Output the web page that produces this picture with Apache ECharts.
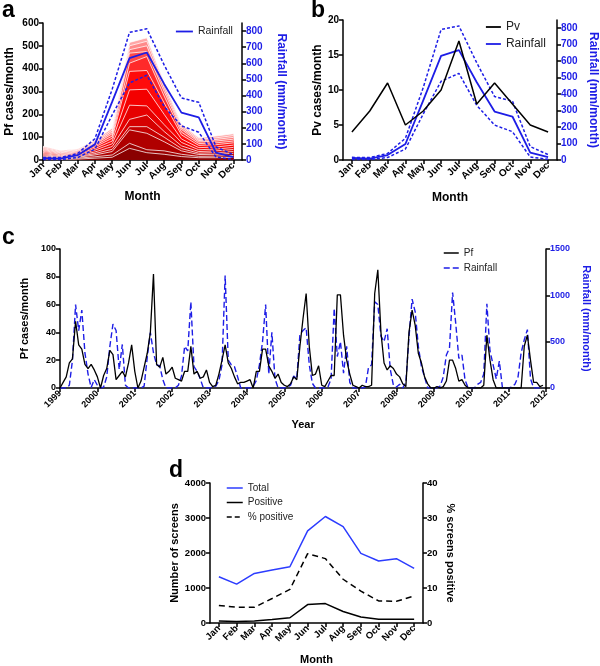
<!DOCTYPE html>
<html><head><meta charset="utf-8">
<script src="https://cdn.jsdelivr.net/npm/echarts@6/dist/echarts.min.js"></script>
<style>html,body{margin:0;padding:0;background:#fff}#c{width:600px;height:666px}</style>
</head><body><div id="c"></div>
<script>
// ---------- shared ----------
const months = ['Jan','Feb','Mar','Apr','May','Jun','Jul','Aug','Sep','Oct','Nov','Dec'];

// ---------- panel a: stacked Pf cases per month (13 yearly layers, bottom to top) ----------
const pfLayer01 = [5, 3, 4, 8, 12, 51, 32, 25, 15, 10, 10, 12];
const pfLayer02 = [4, 3, 4, 6, 10, 22, 13, 15, 10, 6, 7, 8];
const pfLayer03 = [5, 4, 4, 8, 15, 59, 72, 40, 15, 8, 8, 9];
const pfLayer04 = [4, 3, 3, 6, 10, 14, 29, 20, 10, 6, 7, 8];
const pfLayer05 = [5, 3, 4, 7, 12, 32, 51, 25, 12, 7, 8, 9];
const pfLayer06 = [5, 3, 4, 8, 12, 62, 40, 30, 15, 8, 8, 9];
const pfLayer07 = [5, 4, 4, 7, 12, 67, 73, 45, 15, 9, 9, 10];
const pfLayer08 = [5, 3, 4, 7, 12, 81, 82, 50, 18, 10, 10, 10];
const pfLayer09 = [4, 3, 4, 6, 10, 36, 61, 30, 12, 8, 8, 8];
const pfLayer10 = [4, 3, 4, 6, 10, 44, 22, 20, 12, 7, 8, 8];
const pfLayer11 = [4, 3, 3, 5, 8, 15, 25, 15, 8, 6, 7, 8];
const pfLayer12 = [5, 3, 3, 5, 8, 17, 20, 15, 8, 6, 7, 8];
const pfLayer13 = [5, 4, 3, 6, 9, 15, 15, 10, 7, 6, 8, 8];

// ---------- panels a & b: monthly rainfall (mean and band) ----------
const rainMean  = [12, 8, 30, 97, 362, 632, 667, 472, 294, 264, 45, 18];
const rainUpper = [16, 15, 40, 132, 440, 792, 814, 590, 385, 358, 81, 33];
const rainLower = [3, 3, 15, 67, 280, 478, 526, 332, 212, 172, 18, 4];

// ---------- panel b: Pv cases per month ----------
const pvCases = [4, 7, 11, 5, 7, 10, 17, 8, 11, 8, 5, 4];

// ---------- panel c: monthly Pf cases and rainfall 1999-2011 ----------
const pf1999 = [0, 4, 8, 18, 21, 48, 31, 28, 17, 14, 17, 13];
const pf2000 = [8, 0, 9, 14, 27, 24, 6, 9, 12, 8, 18, 31];
const pf2001 = [12, 0, 5, 15, 25, 40, 82, 17, 15, 22, 10, 12];
const pf2002 = [15, 7, 6, 5, 12, 12, 30, 10, 12, 7, 8, 13];
const pf2003 = [4, 1, 2, 10, 20, 31, 18, 14, 8, 3, 4, 4];
const pf2004 = [5, 6, 0, 12, 12, 28, 28, 16, 12, 7, 10, 4];
const pf2005 = [2, 1, 3, 8, 6, 30, 50, 68, 30, 9, 10, 16];
const pf2006 = [2, 1, 5, 9, 9, 67, 67, 38, 20, 10, 2, 1];
const pf2007 = [0, 2, 1, 1, 2, 68, 85, 40, 18, 13, 16, 14];
const pf2008 = [10, 8, 3, 1, 40, 56, 45, 25, 18, 8, 3, 0];
const pf2009 = [0, 1, 0, 1, 5, 20, 20, 14, 5, 6, 2, 0];
const pf2010 = [0, 0, 0, 0, 2, 38, 20, 6, 0, 0, 0, 0];
const pf2011 = [0, 0, 0, 0, 0, 30, 38, 20, 4, 4, 1, 2];

const rain1999 = [0, 0, 0, 30, 300, 900, 620, 840, 380, 150, 5, 90];
const rain2000 = [30, 0, 10, 120, 450, 690, 620, 200, 470, 30, 0, 0];
const rain2001 = [0, 0, 0, 20, 330, 600, 380, 250, 240, 90, 0, 0];
const rain2002 = [0, 0, 30, 130, 450, 400, 930, 230, 180, 100, 0, 0];
const rain2003 = [0, 10, 20, 80, 250, 1215, 300, 250, 230, 120, 0, 0];
const rain2004 = [0, 0, 20, 80, 250, 500, 900, 150, 600, 100, 0, 0];
const rain2005 = [0, 10, 30, 130, 100, 580, 620, 650, 250, 50, 0, 0];
const rain2006 = [0, 0, 10, 100, 860, 340, 500, 160, 450, 60, 0, 0];
const rain2007 = [0, 0, 10, 220, 250, 930, 900, 560, 500, 640, 200, 30];
const rain2008 = [10, 40, 0, 60, 550, 960, 820, 450, 230, 120, 0, 0];
const rain2009 = [0, 0, 20, 120, 356, 430, 1030, 700, 320, 356, 86, 0];
const rain2010 = [0, 0, 40, 60, 150, 910, 400, 250, 100, 290, 0, 0];
const rain2011 = [0, 10, 40, 120, 380, 520, 630, 100, 0, 0, 0, 0];
const firstYear = 1999;
const yearRange = [1999, 2012];

// ---------- panel d: screening ----------
const screensTotal    = [1320, 1110, 1416, 1512, 1608, 2632, 3043, 2756, 1990, 1770, 1837, 1560];
const screensPositive = [60, 45, 55, 100, 150, 526, 555, 330, 172, 105, 105, 105];
const pctPositive     = [5.0, 4.5, 4.5, 7.0, 9.6, 19.8, 18.4, 12.5, 9.1, 6.3, 6.2, 7.7];

// ================= build chart =================
const FONT = 'Liberation Sans, Arial, Helvetica, sans-serif';
const BLUE = '#1d1de6';
const BLUE_D = '#2c3cff';
const layerColors = ['#8a0000','#9c0000','#b00000','#c40000','#d60000','#e60000','#f40000',
                     '#ff0b0b','#ff2a2a','#ff4a4a','#ff6c6c','#ff8a8a','#ffa6a6'];
const pfLayers = [pfLayer01,pfLayer02,pfLayer03,pfLayer04,pfLayer05,pfLayer06,pfLayer07,
                  pfLayer08,pfLayer09,pfLayer10,pfLayer11,pfLayer12,pfLayer13];
const pfYears = [pf1999,pf2000,pf2001,pf2002,pf2003,pf2004,pf2005,pf2006,pf2007,pf2008,pf2009,pf2010,pf2011];
const rainYears = [rain1999,rain2000,rain2001,rain2002,rain2003,rain2004,rain2005,rain2006,rain2007,rain2008,rain2009,rain2010,rain2011];
const pfAll = [].concat(...pfYears);
const rainAll = [].concat(...rainYears);

// cumulative tops of the stacked layers
const cum = [];
pfLayers.forEach((arr, i) => cum.push(arr.map((v, m) => v + (i ? cum[i - 1][m] : 0))));

function merge(a, b) {
  const out = Object.assign({}, a);
  for (const k in b) {
    if (b[k] && typeof b[k] === 'object' && !Array.isArray(b[k]) && a[k] && typeof a[k] === 'object' && !Array.isArray(a[k])) out[k] = merge(a[k], b[k]);
    else out[k] = b[k];
  }
  return out;
}
const plain = v => String(v);
const axisBase = {
  splitLine: {show: false},
  axisLine: {show: true, onZero: false, lineStyle: {color: '#000', width: 1.5}},
  axisTick: {show: true, length: 4, lineStyle: {color: '#000', width: 1.5}},
  axisLabel: {color: '#000', fontWeight: 'bold', fontSize: 10, fontFamily: FONT, margin: 4, formatter: plain},
  nameLocation: 'middle',
  nameTextStyle: {color: '#000', fontWeight: 'bold', fontSize: 12, fontFamily: FONT}
};
const ax = o => merge(axisBase, o);

const xAxes = [
  ax({type: 'value', gridIndex: 0, min: 0, max: 11.5, interval: 1, name: 'Month', nameGap: 31,
      axisLabel: {rotate: 45, showMaxLabel: false, formatter: v => Number.isInteger(v) ? months[v] : ''}}),
  ax({type: 'category', gridIndex: 1, data: months, boundaryGap: true, name: 'Month', nameGap: 32,
      axisTick: {alignWithLabel: true}, axisLabel: {rotate: 45, interval: 0, formatter: null}}),
  ax({type: 'value', gridIndex: 2, min: yearRange[0], max: yearRange[1], interval: 1, name: 'Year', nameGap: 31,
      axisLabel: {rotate: 45, fontSize: 9}, nameTextStyle: {fontSize: 11}}),
  ax({type: 'category', gridIndex: 3, data: months, boundaryGap: true, name: 'Month', nameGap: 31,
      axisTick: {alignWithLabel: true}, axisLabel: {rotate: 45, interval: 0, fontSize: 9.5, formatter: null}, nameTextStyle: {fontSize: 11}})
];
const hide850 = v => v % 100 === 0 ? String(v) : '';
const yAxes = [
  ax({type: 'value', gridIndex: 0, min: 0, max: 600, interval: 100, name: 'Pf cases/month', nameGap: 27}),
  ax({type: 'value', gridIndex: 0, position: 'right', min: 0, max: 850, interval: 100, nameRotate: -90,
      name: 'Rainfall (mm/month)', nameGap: 33, nameTextStyle: {color: BLUE},
      axisLabel: {color: BLUE, showMaxLabel: false, formatter: hide850}}),
  ax({type: 'value', gridIndex: 1, min: 0, max: 20, interval: 5, name: 'Pv cases/month', nameGap: 19}),
  ax({type: 'value', gridIndex: 1, position: 'right', min: 0, max: 850, interval: 100, nameRotate: -90,
      name: 'Rainfall (mm/month)', nameGap: 30, nameTextStyle: {color: BLUE},
      axisLabel: {color: BLUE, showMaxLabel: false, formatter: hide850}}),
  ax({type: 'value', gridIndex: 2, min: 0, max: 100, interval: 20, name: 'Pf cases/month', nameGap: 21,
      axisLabel: {fontSize: 9}, nameTextStyle: {fontSize: 11}}),
  ax({type: 'value', gridIndex: 2, position: 'right', min: 0, max: 1500, interval: 500, nameRotate: -90,
      name: 'Rainfall (mm/month)', nameGap: 30, axisLabel: {fontSize: 9, color: BLUE}, nameTextStyle: {fontSize: 11, color: BLUE}}),
  ax({type: 'value', gridIndex: 3, min: 0, max: 4000, interval: 1000, name: 'Number of screens', nameGap: 26,
      axisLabel: {fontSize: 9.5}, nameTextStyle: {fontSize: 11}}),
  ax({type: 'value', gridIndex: 3, position: 'right', min: 0, max: 40, interval: 10, name: '% screens positive',
      nameGap: 22, nameRotate: -90, axisLabel: {fontSize: 9.5}, nameTextStyle: {fontSize: 11}})
];

const series = [];
// panel a: cumulative layers, each filled down to zero; lower layers drawn on top
cum.forEach((arr, i) => {
  series.push({
    name: 'PfLayer' + (i + 1), type: 'line', xAxisIndex: 0, yAxisIndex: 0,
    symbol: 'none', z: 20 - i, silent: true,
    data: arr.map((v, m) => [m, v]),
    lineStyle: {color: '#ffffff', width: 0.9, opacity: 0.85},
    areaStyle: {color: layerColors[i], opacity: 1, origin: 'start'}
  });
});
function rainSeries(name, arr, xi, yi, dashed) {
  return {
    name, type: 'line', xAxisIndex: xi, yAxisIndex: yi, symbol: 'none', z: 40, silent: true,
    data: xi === 0 ? arr.map((v, m) => [m, v]) : arr,
    itemStyle: {color: BLUE},
    lineStyle: {color: BLUE, width: dashed ? 1.5 : 1.8, type: dashed ? [3, 2] : 'solid'}
  };
}
series.push(rainSeries('Rainfall (a)', rainMean, 0, 1, false));
series.push(rainSeries('Rainfall upper (a)', rainUpper, 0, 1, true));
series.push(rainSeries('Rainfall lower (a)', rainLower, 0, 1, true));
// panel b
series.push({name: 'Pv', type: 'line', xAxisIndex: 1, yAxisIndex: 2, symbol: 'none', z: 41,
  data: pvCases, itemStyle: {color: '#000'}, lineStyle: {color: '#000', width: 1.5}});
series.push(rainSeries('Rainfall (b)', rainMean, 1, 3, false));
series.push(rainSeries('Rainfall upper (b)', rainUpper, 1, 3, true));
series.push(rainSeries('Rainfall lower (b)', rainLower, 1, 3, true));
// panel c
series.push({name: 'Rainfall (c)', type: 'line', xAxisIndex: 2, yAxisIndex: 5, symbol: 'none', z: 40,
  data: rainAll.map((v, i) => [firstYear + i / 12, v]), itemStyle: {color: BLUE},
  lineStyle: {color: BLUE, width: 1.4, type: [6, 3]}});
series.push({name: 'Pf', type: 'line', xAxisIndex: 2, yAxisIndex: 4, symbol: 'none', z: 41,
  data: pfAll.map((v, i) => [firstYear + i / 12, v]), itemStyle: {color: '#000'},
  lineStyle: {color: '#000', width: 1.3}});
// panel d
series.push({name: 'Total', type: 'line', xAxisIndex: 3, yAxisIndex: 6, symbol: 'none',
  data: screensTotal, itemStyle: {color: BLUE_D}, lineStyle: {color: BLUE_D, width: 1.5}});
series.push({name: 'Positive', type: 'line', xAxisIndex: 3, yAxisIndex: 6, symbol: 'none',
  data: screensPositive, itemStyle: {color: '#000'}, lineStyle: {color: '#000', width: 1.5}});
series.push({name: '% positive', type: 'line', xAxisIndex: 3, yAxisIndex: 7, symbol: 'none',
  data: pctPositive, itemStyle: {color: '#000'}, lineStyle: {color: '#000', width: 1.5, type: [6, 4]}});

const legFmt = n => n.replace(/ \([a-d]\)$/, '');
const legItem = (name, color, type, width) => ({name, itemStyle: {opacity: 0},
  lineStyle: {color, type: type || 'solid', width: width || 1.8}});
const legendBase = {selectedMode: false, orient: 'vertical', formatter: legFmt, padding: 0,
  itemStyle: {opacity: 0},
  textStyle: {color: '#222', fontFamily: FONT, fontSize: 10}};
const legends = [
  merge(legendBase, {data: [legItem('Rainfall (a)', BLUE)], left: 175, top: 26, itemWidth: 17, itemHeight: 12, textStyle: {fontSize: 10.5}}),
  merge(legendBase, {data: [legItem('Pv', '#000'), legItem('Rainfall (b)', BLUE)], left: 485, top: 21, itemWidth: 15, itemHeight: 12, itemGap: 5, textStyle: {fontSize: 12}}),
  merge(legendBase, {data: [legItem('Pf', '#000', 'solid', 1.5), legItem('Rainfall (c)', BLUE, [6, 3], 1.5)], left: 443, top: 248, itemWidth: 15, itemHeight: 12, itemGap: 5}),
  merge(legendBase, {data: [legItem('Total', BLUE_D, 'solid', 1.5), legItem('Positive', '#000', 'solid', 1.5), legItem('% positive', '#000', [5, 3], 1.5)], left: 226, top: 483, itemWidth: 16, itemHeight: 10, itemGap: 4.5})
];

const letter = (t, x, y) => ({type: 'text', left: x, top: y, silent: true,
  style: {text: t, fontSize: 23, fontWeight: 'bold', fontFamily: FONT, fill: '#000'}});

const option = {
  animation: false,
  backgroundColor: '#fff',
  grid: [
    {left: 43, top: 23, width: 199, height: 137},
    {left: 343, top: 20, width: 214, height: 140},
    {left: 60, top: 249, width: 497, height: 139},
    {left: 210, top: 483, width: 213, height: 140}
  ],
  xAxis: xAxes,
  yAxis: yAxes,
  legend: legends,
  series: series,
  graphic: [letter('a', 2, -1), letter('b', 311, -1), letter('c', 2, 226), letter('d', 169, 459)]
};
const chart = echarts.init(document.getElementById('c'), null, {renderer: 'canvas'});
chart.setOption(option);
</script></body></html>
